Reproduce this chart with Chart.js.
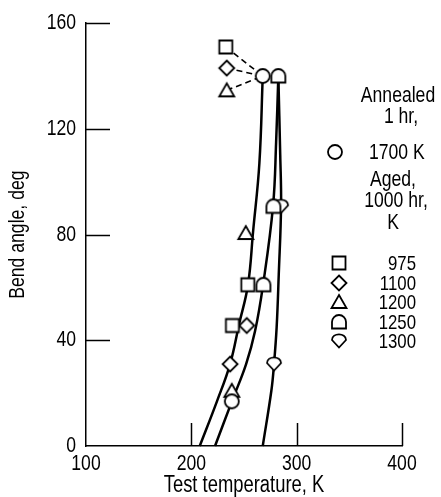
<!DOCTYPE html>
<html>
<head>
<meta charset="utf-8">
<script src="https://cdn.jsdelivr.net/npm/chart.js@4.4.1/dist/chart.umd.min.js"></script>
<style>
html,body{margin:0;padding:0;background:#fff;}
canvas{display:block;}
</style>
</head>
<body>
<canvas id="c" width="441" height="497"></canvas>
<script>
// ---- data ----
const xTicks = [100, 200, 300, 400];
const yTicks = [0, 40, 80, 120, 160];

// fitted curves
const curveAX = [208, 224.4, 236.8, 245.3, 253.8, 258.6, 264.6, 267.8];
const curveAY = [0, 17, 31, 46, 61, 81, 107, 140];
const curveBX = [222.5, 238.6, 252, 260.5, 268.1, 277.6, 280.5, 282.6];
const curveBY = [0, 17, 31, 43.5, 61, 91, 115, 140];
const curveCX = [267.8, 276, 278.5, 281, 283, 285.2, 284.4, 282.6];
const curveCY = [0, 21, 31, 45, 65, 91, 110, 140];

// measured points
const annealX = [267.8, 238.4];      // 1700 K circles
const annealY = [140, 16.9];
const aged975X = [232.7, 253.6, 239.0];
const aged975Y = [151, 61, 45.6];
const aged1100X = [233.6, 252.6, 236.8];
const aged1100Y = [143, 45.6, 31];
const aged1200X = [233.6, 251.7, 238.4];
const aged1200Y = [134.6, 80.6, 20.9];
const aged1250X = [282.6, 277.9, 268.4];
const aged1250Y = [140, 90.7, 61];
const aged1300X = [285.2, 278.5];
const aged1300Y = [90.7, 31];

const legendLabels = ['975', '1100', '1200', '1250', '1300'];

// ---- helpers ----
const FONT = '"Liberation Sans", Arial, sans-serif';
const SQUEEZE = 0.8;   // horizontal condensing of all text
Chart.defaults.font.family = FONT;
Chart.defaults.color = '#000';

const canvas = document.getElementById('c');
const cctx = canvas.getContext('2d');
const origFillText = cctx.fillText;
cctx.fillText = function (t, x, y, mw) {
  this.save();
  this.translate(x, y);
  this.scale(SQUEEZE, 1);
  if (mw === undefined) origFillText.call(this, t, 0, 0);
  else origFillText.call(this, t, 0, 0, mw / SQUEEZE);
  this.restore();
};

function pts(xs, ys) { return xs.map((x, i) => ({x: x, y: ys[i]})); }

function mk(draw) {
  const c = document.createElement('canvas');
  c.width = 22; c.height = 22;
  const g = c.getContext('2d');
  g.translate(11, 11);
  g.lineWidth = 1.8;
  g.strokeStyle = '#000';
  g.fillStyle = '#fff';
  g.beginPath();
  draw(g);
  g.closePath();
  g.fill();
  g.stroke();
  return c;
}
const M = {
  circle: mk(g => g.arc(0, 0, 7, 0, Math.PI * 2)),
  square: mk(g => g.rect(-6.5, -6.5, 13, 13)),
  diamond: mk(g => { g.moveTo(0, -7.5); g.lineTo(7.5, 0); g.lineTo(0, 7.5); g.lineTo(-7.5, 0); }),
  triangle: mk(g => { g.moveTo(0, -7); g.lineTo(7.5, 6); g.lineTo(-7.5, 6); }),
  halfround: mk(g => { g.moveTo(-7, 6.5); g.lineTo(-7, 0); g.arc(0, 0, 7, Math.PI, 0); g.lineTo(7, 6.5); }),
  shield: mk(g => { g.moveTo(-7, -1); g.bezierCurveTo(-7, -8.5, 7, -8.5, 7, -1); g.lineTo(0, 6.5); })
};

function curve(xs, ys) {
  return { data: pts(xs, ys), showLine: true, borderColor: '#000', borderWidth: 2.5,
    pointRadius: 0, tension: 0.4, fill: false, order: 5 };
}
function dashed(x0, y0) {
  return { data: [{x: x0, y: y0}, {x: annealX[0], y: annealY[0]}], showLine: true,
    borderColor: '#000', borderWidth: 1.6, borderDash: [6, 4], pointRadius: 0, order: 4 };
}
function marks(xs, ys, style) {
  return { data: pts(xs, ys), showLine: false, pointStyle: style, pointRadius: 7,
    backgroundColor: '#fff', borderColor: '#000', order: 1 };
}

const extras = {
  id: 'extras',
  afterDraw(chart) {
    const ctx = chart.ctx, xs = chart.scales.x, ys = chart.scales.y;
    const a = chart.chartArea;
    ctx.save();
    ctx.strokeStyle = '#000';
    ctx.lineWidth = 1.5;
    // inward ticks
    yTicks.forEach(v => {
      if (v === 0) return;
      const p = Math.round(ys.getPixelForValue(v)) + 0.5;
      ctx.beginPath(); ctx.moveTo(a.left, p); ctx.lineTo(a.left + 24, p); ctx.stroke();
    });
    xTicks.forEach(v => {
      if (v === 100) return;
      const p = Math.round(xs.getPixelForValue(v)) + 0.5;
      ctx.beginPath(); ctx.moveTo(p, a.bottom); ctx.lineTo(p, a.bottom - 23); ctx.stroke();
    });
    // legend text
    ctx.fillStyle = '#000';
    ctx.textBaseline = 'middle';
    ctx.font = '22px ' + FONT;
    ctx.textAlign = 'center';
    ctx.fillText('Annealed', 398, 96);
    ctx.fillText('1 hr,', 401, 117);
    ctx.textAlign = 'left';
    ctx.fillText('1700 K', 369, 153);
    ctx.textAlign = 'center';
    ctx.fillText('Aged,', 393, 180);
    ctx.fillText('1000 hr,', 396, 201);
    ctx.fillText('K', 393, 223);
    ctx.drawImage(M.circle, 335 - 11, 152 - 11);
    const rowsY = [263, 283, 302, 322, 341];
    const syms = [M.square, M.diamond, M.triangle, M.halfround, M.shield];
    ctx.font = '21px ' + FONT;
    ctx.textAlign = 'right';
    legendLabels.forEach((t, i) => {
      ctx.drawImage(syms[i], 339 - 11, rowsY[i] - 11);
      ctx.fillText(t, 416, rowsY[i] + 1);
    });
    ctx.restore();
  }
};

new Chart(canvas, {
  type: 'scatter',
  data: {
    datasets: [
      curve(curveAX, curveAY),
      curve(curveBX, curveBY),
      curve(curveCX, curveCY),
      dashed(aged975X[0], aged975Y[0]),
      dashed(aged1100X[0], aged1100Y[0]),
      dashed(aged1200X[0], aged1200Y[0]),
      marks(annealX, annealY, M.circle),
      marks(aged975X, aged975Y, M.square),
      marks(aged1100X, aged1100Y, M.diamond),
      marks(aged1200X, aged1200Y, M.triangle),
      marks(aged1250X, aged1250Y, M.halfround),
      marks(aged1300X, aged1300Y, M.shield)
    ]
  },
  options: {
    responsive: false,
    devicePixelRatio: 1,
    animation: false,
    clip: false,
    layout: { padding: { left: 0, right: 39, top: 19, bottom: 0 } },
    plugins: { legend: { display: false }, tooltip: { enabled: false } },
    scales: {
      x: {
        type: 'linear', min: 100, max: 400,
        afterBuildTicks: s => { s.ticks = xTicks.map(v => ({value: v})); },
        ticks: { font: { size: 22 }, color: '#000', padding: 5, maxRotation: 0 },
        grid: { display: false, drawTicks: false },
        border: { display: true, color: '#000', width: 1.5 },
        title: { display: true, text: 'Test temperature, K', font: { size: 23, lineHeight: 1 }, color: '#000', padding: { top: 0, bottom: 0 } },
        afterFit: s => { s.height = 51; }
      },
      y: {
        type: 'linear', min: 0, max: 160,
        afterBuildTicks: s => { s.ticks = yTicks.map(v => ({value: v})); },
        ticks: { font: { size: 22 }, color: '#000', padding: 10 },
        grid: { display: false, drawTicks: false },
        border: { display: true, color: '#000', width: 1.5 },
        title: { display: true, text: 'Bend angle, deg', font: { size: 22 }, color: '#000', padding: { top: 5, bottom: 0 } },
        afterFit: s => { s.width = 86; }
      }
    }
  },
  plugins: [extras]
});
</script>
</body>
</html>
